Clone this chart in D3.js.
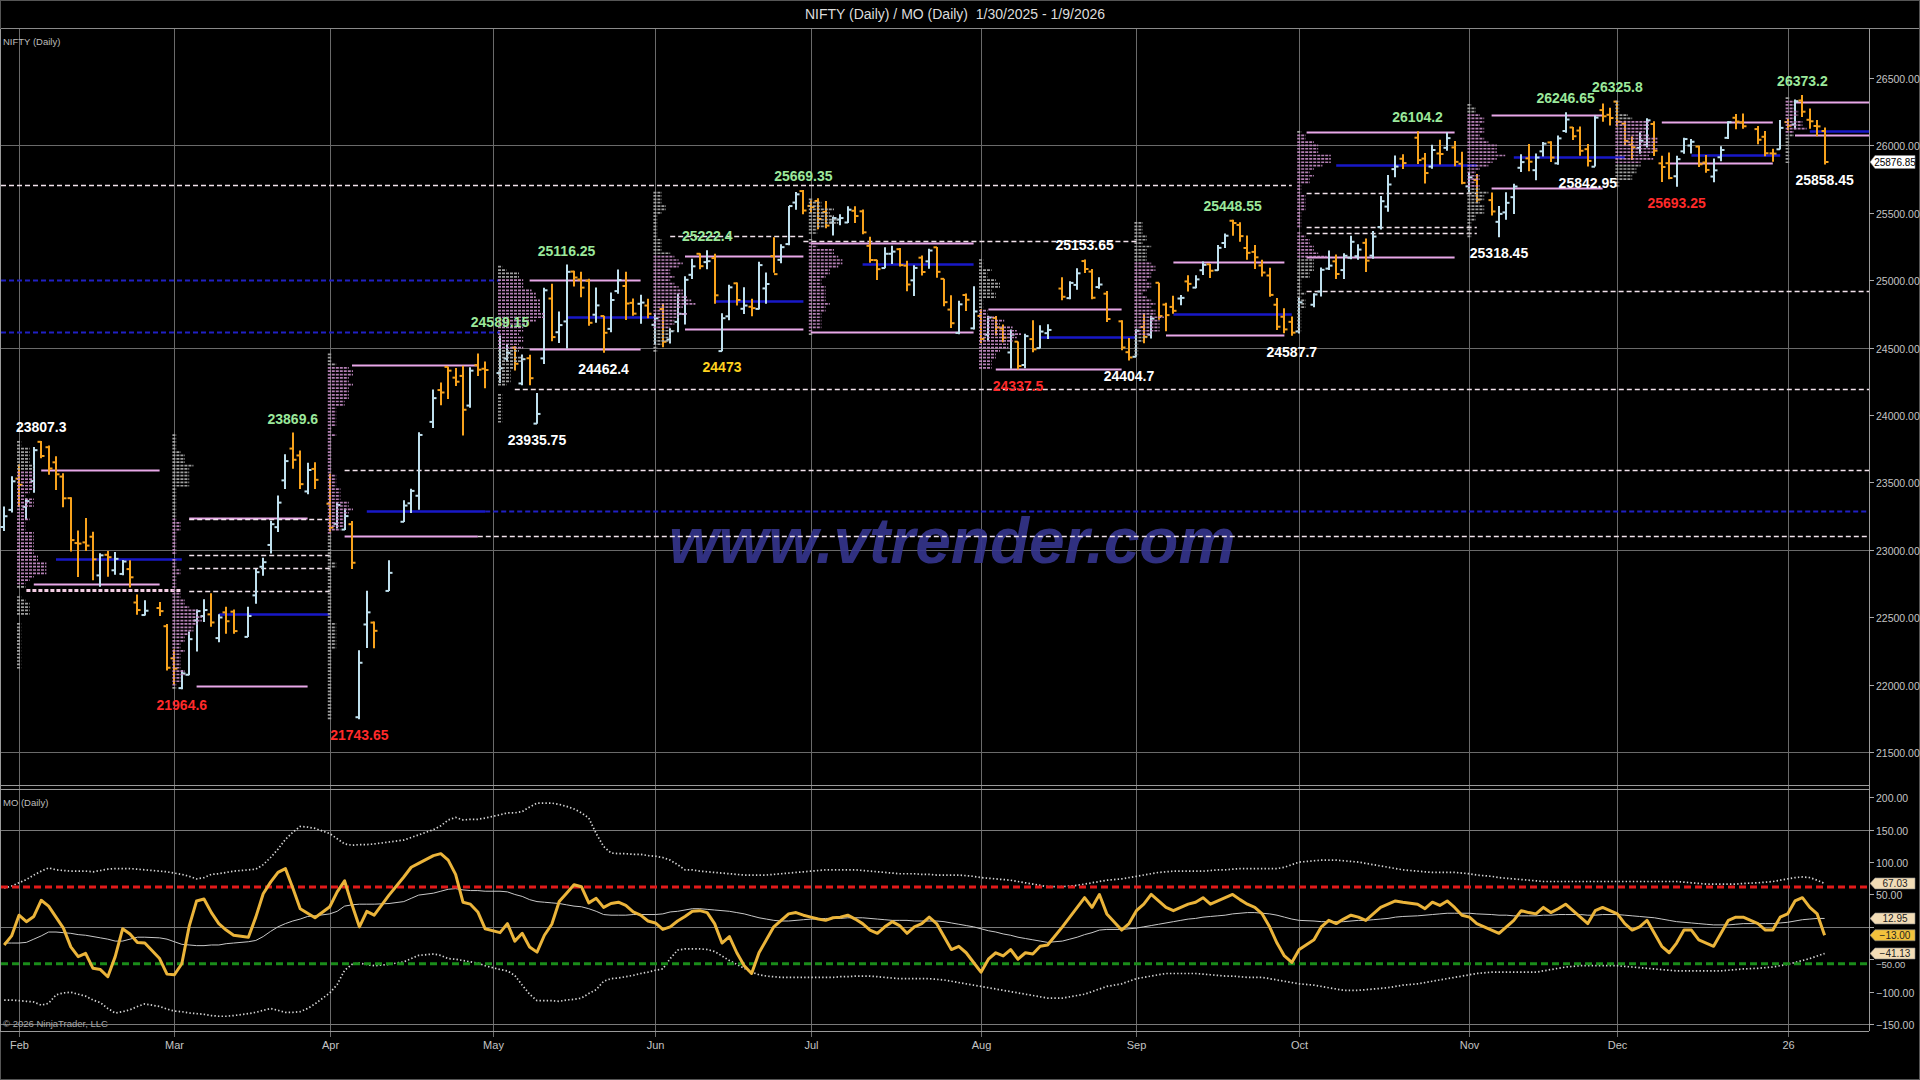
<!DOCTYPE html>
<html><head><meta charset="utf-8">
<script src="https://cdn.jsdelivr.net/npm/d3@7"></script>
<style>
html,body{margin:0;padding:0;background:#000;}
svg{display:block;}
text{font-family:'Liberation Sans Narrow','Arial Narrow','Liberation Sans',Arial,sans-serif;}
</style></head><body>
<svg id="c" width="1920" height="1080"></svg>
<script>
// ---------------- DATA ----------------
// daily bars: [date, open, high, low, close]
const jan25 = [
['2025-01-30',23169,23322,23139,23249],['2025-01-31',23296,23546,23277,23508]];
const feb25 = [
['2025-02-01',23528,23632,23318,23482],['2025-02-03',23319,23381,23222,23361],['2025-02-04',23509,23762,23424,23739],
['2025-02-05',23801,23807.3,23680,23696],['2025-02-06',23761,23773,23556,23603],['2025-02-07',23649,23694,23443,23560],
['2025-02-10',23543,23568,23316,23382],['2025-02-11',23383,23390,22987,23072],['2025-02-12',23050,23144,22798,23046],
['2025-02-13',23055,23236,22992,23031],['2025-02-14',23097,23133,22774,22929],['2025-02-17',22810,22974,22725,22959],
['2025-02-18',22963,22992,22801,22945],['2025-02-19',22848,22983,22814,22933],['2025-02-20',22821,22924,22812,22913],
['2025-02-21',22857,22922,22720,22796],['2025-02-24',22609,22668,22519,22553],['2025-02-25',22516,22626,22513,22548],
['2025-02-27',22568,22613,22508,22545],['2025-02-28',22433,22450,22104,22125]];
const mar25 = [
['2025-03-03',22195,22261,22005,22119],['2025-03-04',21974,22106,21964.6,22083],['2025-03-05',22073,22394,22069,22337],
['2025-03-06',22476,22557,22245,22545],['2025-03-07',22508,22633,22464,22553],['2025-03-10',22521,22677,22429,22461],
['2025-03-11',22345,22522,22314,22498],['2025-03-12',22536,22578,22377,22470],['2025-03-13',22541,22558,22377,22397],
['2025-03-17',22354,22577,22354,22509],['2025-03-18',22662,22857,22599,22834],['2025-03-19',22874,22941,22807,22908],
['2025-03-20',23036,23216,22973,23190],['2025-03-21',23168,23403,23132,23350],['2025-03-24',23515,23708,23451,23658],
['2025-03-25',23751,23869.6,23601,23668],['2025-03-26',23700,23737,23451,23487],['2025-03-27',23433,23646,23412,23592],
['2025-03-28',23600,23649,23451,23519]];
const apr25 = [
['2025-04-01',23342,23565,23136,23165],['2025-04-02',23193,23350,23158,23332],['2025-04-03',23150,23306,23146,23250],
['2025-04-04',23190,23214,22857,22904],['2025-04-07',21758,22254,21743.65,22162],['2025-04-08',22446,22697,22271,22536],
['2025-04-09',22460,22468,22270,22399],['2025-04-11',22695,22923,22695,22829],['2025-04-15',23208,23368,23207,23328],
['2025-04-16',23345,23452,23273,23437],['2025-04-17',23401,23872,23298,23852],['2025-04-21',23949,24189,23903,24125],
['2025-04-22',24185,24242,24073,24167],['2025-04-23',24357,24359,24119,24329],['2025-04-24',24277,24348,24216,24247],
['2025-04-25',24290,24366,23847,24039],['2025-04-28',24070,24355,24054,24329],['2025-04-29',24370,24457,24290,24336],
['2025-04-30',24343,24396,24198,24334]];
const may25 = [
['2025-05-02',24311,24589.15,24238,24347],['2025-05-05',24419,24526,24400,24461],['2025-05-06',24500,24510,24331,24380],
['2025-05-07',24234,24449,24220,24414],['2025-05-08',24421,24447,24220,24273],['2025-05-09',23936,24164,23935.75,24008],
['2025-05-12',24420,24944,24378,24925],['2025-05-13',24864,24973,24547,24578],['2025-05-14',24614,24767,24535,24667],
['2025-05-15',24694,25116.25,24494,25062],['2025-05-16',25064,25071,24953,25020],['2025-05-19',25005,25062,24874,24945],
['2025-05-20',24996,25011,24662,24684],['2025-05-21',24744,24946,24685,24813],['2025-05-22',24734,24737,24462.4,24610],
['2025-05-23',24639,24909,24614,24853],['2025-05-26',24919,25079,24900,25001],['2025-05-27',24957,25062,24704,24827],
['2025-05-28',24832,24865,24737,24752],['2025-05-29',24825,24892,24677,24834],['2025-05-30',24812,24863,24717,24751]];
const jun25 = [
['2025-06-02',24669,24754,24527,24717],['2025-06-03',24786,24826,24502,24543],['2025-06-04',24560,24644,24530,24621],
['2025-06-05',24691,24899,24613,24751],['2025-06-06',24749,25029,24672,25003],['2025-06-09',25040,25160,25008,25103],
['2025-06-10',25196,25200,25082,25104],['2025-06-11',25134,25222.4,25081,25141],['2025-06-12',25164,25196,24825,24888],
['2025-06-13',24474,24754,24473,24718],['2025-06-16',24732,24967,24703,24947],['2025-06-17',24977,24983,24813,24853],
['2025-06-18',24788,24947,24750,24812],['2025-06-19',24803,24863,24733,24793],['2025-06-20',24787,25137,24783,25112],
['2025-06-23',24939,25058,24825,24972],['2025-06-24',25179,25318,25056,25045],['2025-06-25',25151,25266,25125,25245],
['2025-06-26',25268,25550,25259,25550],['2025-06-27',25576,25655,25523,25637],['2025-06-30',25661,25669.35,25490,25517]];
const jul25 = [
['2025-07-01',25551,25593,25501,25542],['2025-07-02',25588,25608,25378,25454],['2025-07-03',25506,25587,25386,25405],
['2025-07-04',25428,25470,25332,25461],['2025-07-07',25450,25490,25407,25461],['2025-07-08',25428,25549,25424,25523],
['2025-07-09',25515,25548,25424,25476],['2025-07-10',25511,25525,25340,25355],['2025-07-11',25255,25323,25129,25150],
['2025-07-14',25149,25151,25001,25082],['2025-07-15',25090,25245,25089,25196],['2025-07-16',25196,25255,25121,25212],
['2025-07-17',25230,25238,25101,25112],['2025-07-18',25108,25144,24918,24968],['2025-07-21',24999,25111,24882,25091],
['2025-07-22',25167,25183,25035,25061],['2025-07-23',25140,25233,25085,25220],['2025-07-24',25244,25246,25018,25062],
['2025-07-25',25010,25011,24807,24837],['2025-07-28',24782,24889,24646,24681],['2025-07-29',24609,24848,24599,24821],
['2025-07-30',24890,24902,24772,24855],['2025-07-31',24643,24956,24635,24768]];
const aug25 = [
['2025-08-01',24735,24784,24535,24565],['2025-08-04',24596,24736,24554,24723],['2025-08-05',24720,24734,24590,24650],
['2025-08-06',24641,24671,24539,24574],['2025-08-07',24464,24634,24344,24596],['2025-08-08',24544,24545,24337.5,24363],
['2025-08-11',24371,24603,24347,24585],['2025-08-12',24563,24702,24465,24487],['2025-08-13',24496,24665,24494,24619],
['2025-08-14',24607,24673,24563,24631],['2025-08-18',24938,25022,24852,24877],['2025-08-19',24867,24993,24859,24980],
['2025-08-20',24965,25088,24929,25051],['2025-08-21',25142,25153.65,25054,25083],['2025-08-22',25064,25084,24859,24870],
['2025-08-25',24949,25022,24936,24968],['2025-08-26',24900,24919,24689,24712],['2025-08-28',24695,24702,24481,24501],
['2025-08-29',24466,24572,24404.7,24427]];
const sep25 = [
['2025-09-01',24432,24636,24432,24625],['2025-09-02',24653,24756,24533,24580],['2025-09-03',24596,24737,24567,24715],
['2025-09-04',24981,24981,24706,24734],['2025-09-05',24819,24832,24621,24741],['2025-09-08',24802,24885,24751,24773],
['2025-09-09',24864,24891,24814,24869],['2025-09-10',24991,25036,24916,24973],['2025-09-11',24945,25037,24940,25006],
['2025-09-12',25074,25139,25038,25114],['2025-09-15',25118,25120,25017,25070],['2025-09-16',25074,25261,25070,25240],
['2025-09-17',25276,25346,25239,25330],['2025-09-18',25441,25448.55,25330,25424],['2025-09-19',25410,25429,25286,25327],
['2025-09-22',25239,25331,25151,25203],['2025-09-23',25210,25261,25084,25170],['2025-09-24',25109,25151,25027,25057],
['2025-09-25',25035,25093,24878,24891],['2025-09-26',24818,24868,24630,24655],['2025-09-29',24729,24792,24606,24635],
['2025-09-30',24691,24731,24587.7,24611]];
const oct25 = [
['2025-10-01',24620,24868,24605,24836],['2025-10-03',24818,24904,24800,24894],['2025-10-06',24916,25095,24880,25077],
['2025-10-07',25086,25220,25076,25108],['2025-10-08',25140,25190,25009,25046],['2025-10-09',25075,25199,25009,25181],
['2025-10-10',25167,25330,25156,25285],['2025-10-13',25178,25267,25152,25227],['2025-10-14',25277,25310,25061,25145],
['2025-10-15',25182,25365,25160,25324],['2025-10-16',25394,25625,25376,25586],['2025-10-17',25546,25781,25508,25710],
['2025-10-20',25824,25926,25763,25843],['2025-10-21',25901,25934,25825,25869],['2025-10-23',26057,26104.2,25862,25891],
['2025-10-24',25902,25944,25718,25795],['2025-10-27',25843,26005,25827,25966],['2025-10-28',25940,26041,25858,25936],
['2025-10-29',25982,26098,25960,26054],['2025-10-30',25985,26033,25845,25878],['2025-10-31',25864,25953,25711,25722]];
const nov25 = [
['2025-11-03',25696,25803,25645,25763],['2025-11-04',25744,25788,25578,25598],['2025-11-06',25594,25650,25480,25510],
['2025-11-07',25433,25551,25318.45,25492],['2025-11-10',25503,25653,25449,25574],['2025-11-11',25616,25715,25491,25695],
['2025-11-12',25834,25935,25802,25876],['2025-11-13',25904,26011,25808,25879],['2025-11-14',25816,25940,25741,25910],
['2025-11-17',25956,26025,25918,26013],['2025-11-18',26022,26030,25876,25910],['2025-11-19',25867,26074,25857,26052],
['2025-11-20',26107,26246.65,26093,26192],['2025-11-21',26133,26136,26040,26068],['2025-11-24',26110,26141,25924,25960],
['2025-11-25',25972,26010,25842.95,25885],['2025-11-26',25842,26221,25843,26206],['2025-11-27',26262,26310,26175,26216],
['2025-11-28',26227,26280,26148,26203]];
const dec25 = [
['2025-12-01',26325,26325.8,26140,26176],['2025-12-02',26161,26183,25997,26032],['2025-12-03',26005,26066,25891,25986],
['2025-12-04',25981,26098,25938,26034],['2025-12-05',26004,26202,25985,26186],['2025-12-08',26159,26180,25922,25961],
['2025-12-09',25867,25923,25728,25840],['2025-12-10',25868,25947,25748,25758],['2025-12-11',25771,25923,25693.25,25898],
['2025-12-12',25956,26057,25938,26047],['2025-12-15',25999,26048,25939,26027],['2025-12-16',25991,25997,25840,25860],
['2025-12-17',25873,25929,25798,25818],['2025-12-18',25769,25903,25726,25815],['2025-12-19',25912,25994,25883,25966],
['2025-12-22',26056,26180,26047,26172],['2025-12-23',26205,26233,26119,26177],['2025-12-24',26170,26236,26124,26142],
['2025-12-26',26121,26144,26008,26042],['2025-12-29',26064,26106,25920,25942],['2025-12-30',25941,25976,25878,25939],
['2025-12-31',25971,26188,25969,26130]];
const jan26 = [
['2026-01-01',26173,26197,26113,26146],['2026-01-02',26155,26340,26119,26328],['2026-01-05',26333,26373.2,26210,26250],
['2026-01-06',26190,26274,26124,26179],['2026-01-07',26144,26188,26067,26141],['2026-01-08',26107,26133,25858.45,25876.85]];

// MO indicator (one value per bar, same order as bars)
const moValue = [
-28,-14,
18,8,16,41,32,15,-2,-31,-46,-41,-64,-66,-77,-46,-3,-11,-24,-25,-49,-73,
-74,-57,1,40,43,22,5,-5,-13,-16,15,51,69,84,90,60,28,21,14,
31,54,71,34,0,24,18,49,77,92,98,110,113,103,81,38,35,23,-3,
-9,5,-22,-10,-31,-39,-13,4,39,52,65,62,37,44,30,36,38,33,23,18,9,
6,-4,0,9,16,24,25,22,5,-25,-15,-40,-60,-72,-40,-20,0,10,20,22,18,
15,12,10,14,15,18,12,5,-5,-10,0,8,2,-10,0,5,15,5,-15,-35,-30,-40,-55,
-70,-50,-40,-45,-35,-50,-40,-42,-30,-28,0,15,30,45,30,50,20,-5,5,
25,35,50,40,30,25,30,35,38,45,35,40,45,50,42,35,30,20,0,-25,-45,-55,
-35,-20,0,10,5,12,18,15,10,20,30,35,40,38,35,28,38,33,40,30,18,
15,5,-5,-10,0,10,25,22,20,30,22,28,35,25,15,5,25,30,25,
20,5,-5,0,10,-10,-30,-40,-25,-5,-5,-20,-25,-30,-10,10,15,15,5,-5,-5,15,
20,40,45,30,20,-13.00];
const moAverage = [
-25,-25,
-25,-24,-19,-14,-8,-8,-9,-10,-12,-13,-15,-17,-19,-22,-22,-19,-16,-16,-17,-19,
-23,-27,-28,-29,-29,-28,-28,-26,-25,-23,-21,-15,-7,0,5,9,12,16,17,
20,24,32,34,35,35,35,36,39,44,49,52,55,58,59,57,56,56,55,
55,54,50,47,42,39,38,37,36,34,32,31,28,24,19,18,18,18,19,19,19,
19,20,23,24,26,28,28,27,26,25,24,22,20,17,14,12,10,9,9,10,11,
12,12,13,13,13,14,14,14,13,12,11,10,10,10,9,9,9,9,8,6,4,2,0,
-3,-6,-8,-11,-13,-16,-18,-20,-22,-24,-22,-19,-16,-12,-9,-5,-4,-4,-3,
-2,0,2,4,6,8,10,12,13,15,16,17,18,20,21,22,22,21,20,18,15,12,
10,9,8,8,8,8,9,10,10,11,12,13,15,16,17,18,19,20,21,21,21,
21,20,19,18,18,17,17,17,17,18,18,19,19,19,19,18,18,19,19,
19,18,17,16,15,14,12,10,8,7,6,5,4,3,3,3,4,5,5,5,5,6,
7,9,11,12,13,12.95];
const moUpper = [
60,63,
68,73,80,86,91,88,87,86,86,86,85,87,89,90,90,90,89,88,86,85,
83,81,78,74,76,81,82,84,86,88,89,96,107,120,135,146,155,154,152,
144,136,128,126,127,127,128,131,134,138,142,150,156,165,169,165,166,166,168,
173,176,176,178,185,191,191,191,189,186,182,176,168,144,124,114,113,113,112,112,110,
109,107,103,96,88,88,86,85,84,83,82,81,80,80,80,80,81,82,83,84,85,
86,87,88,88,88,88,88,87,86,85,84,83,82,82,82,81,81,80,80,80,80,79,78,
76,75,74,73,72,70,68,66,64,62,62,63,64,66,68,70,72,74,76,
78,80,82,84,85,86,86,86,86,86,87,88,88,89,90,90,90,90,90,90,92,96,
100,102,103,103,103,102,101,100,98,96,94,92,90,88,86,85,84,84,84,84,83,
82,80,78,76,75,74,73,72,71,70,70,70,70,70,70,70,70,70,70,
70,70,70,70,70,70,70,70,70,69,68,67,66,66,66,66,66,67,68,69,70,72,
74,76,77,76,72,67.03];
const moLower = [
-113,-113,
-114,-115,-116,-121,-118,-105,-102,-101,-104,-107,-113,-117,-126,-133,-131,-128,-123,-119,-123,-127,
-130,-131,-133,-134,-135,-137,-138,-138,-137,-134,-132,-129,-126,-129,-132,-132,-131,-126,-119,
-102,-89,-67,-58,-56,-58,-60,-58,-54,-49,-44,-42,-44,-49,-50,-52,-54,-56,-60,
-66,-68,-75,-90,-104,-114,-114,-114,-115,-113,-112,-110,-103,-97,-84,-80,-79,-77,-75,-72,-70,
-67,-65,-49,-36,-34,-34,-34,-35,-38,-45,-52,-58,-64,-70,-74,-76,-77,-78,-78,-78,-78,
-78,-78,-78,-78,-77,-77,-76,-76,-76,-77,-78,-79,-80,-80,-80,-80,-80,-81,-82,-84,-86,-88,-90,
-92,-94,-96,-98,-100,-102,-104,-106,-108,-110,-110,-108,-106,-104,-100,-96,-92,-88,-84,
-80,-78,-76,-74,-72,-72,-72,-72,-72,-73,-74,-75,-76,-76,-77,-78,-78,-78,-80,-82,-84,-86,
-88,-90,-92,-94,-96,-98,-98,-98,-97,-96,-95,-94,-92,-90,-88,-86,-84,-82,-80,-78,-76,
-74,-72,-70,-70,-70,-70,-70,-70,-70,-68,-66,-64,-62,-61,-60,-60,-60,-60,-60,
-60,-61,-62,-63,-64,-65,-66,-67,-68,-68,-68,-68,-68,-68,-68,-67,-66,-65,-64,-63,-62,-60,
-58,-55,-52,-49,-45,-41.13];
const moUpperLevel = 61.5, moLowerLevel = -57;

// monthly profile value areas
const profileMonths = ['2025-02','2025-03','2025-04','2025-05','2025-06','2025-07','2025-08','2025-09','2025-10','2025-11','2025-12','2026-01'];
const profileVAL = [22748,21987,23102,24491,24640,24613,24342,24597,25170,25683,25872,26077];
const profileVAH = [23593,23239,24371,25004,25176,25276,24789,25136,26097,26226,26176,26325];

// horizontal level segments: [price, fromDate|null, toDate|null, kind]
const levelSegments = [
[25703,null,'2025-09-30','dash'],[25004,null,'2025-05-02','bluedash'],[24613,null,'2025-05-02','bluedash'],
[23593,'2025-02-05','2025-02-27','va'],[22931,'2025-02-07','2025-03-04','poc'],[22748,'2025-02-04','2025-02-27','va'],
[22699,'2025-02-03','2025-03-04','dashpink'],
[23239,'2025-03-05','2025-03-27','va'],[23230,'2025-03-05','2025-04-01','dash'],[22964,'2025-03-05','2025-04-01','dash'],
[22868,'2025-03-05','2025-04-01','dash'],[22692,'2025-03-05','2025-04-01','dash'],[22527,'2025-03-11','2025-04-01','poc'],
[21987,'2025-03-06','2025-03-27','va'],
[24371,'2025-04-04','2025-04-29','va'],[23288,'2025-04-08','2025-04-30','poc'],[23288,'2025-04-30',null,'bluedash'],
[23102,'2025-04-03','2025-04-29','va'],[23102,'2025-04-29',null,'dash'],[23592,'2025-04-03',null,'dash'],
[24193,'2025-05-06',null,'dash'],
[25004,'2025-05-08','2025-05-29','va'],[24729,'2025-05-15','2025-06-02','poc'],[24491,'2025-05-08','2025-05-29','va'],
[25325,'2025-06-04','2025-06-30','dash'],[25176,'2025-06-06','2025-06-30','va'],[24845,'2025-06-12','2025-06-30','poc'],
[24640,'2025-06-06','2025-06-30','va'],
[25292,'2025-06-30','2025-09-01','dash'],[25276,'2025-07-01','2025-07-31','va'],[25120,'2025-07-10','2025-07-31','poc'],
[24613,'2025-07-01','2025-07-31','va'],
[24789,'2025-08-04','2025-08-28','va'],[24580,'2025-08-13','2025-09-01','poc'],[24342,'2025-08-05','2025-08-28','va'],
[25136,'2025-09-08','2025-09-29','va'],[24746,'2025-09-08','2025-09-30','poc'],[24597,'2025-09-05','2025-09-29','va'],
[26097,'2025-10-02','2025-10-30','va'],[25855,'2025-10-08','2025-11-04','poc'],[25647,'2025-10-02','2025-11-04','dash'],
[25392,'2025-10-02','2025-11-04','dash'],[25348,'2025-10-02','2025-11-04','dash'],[25170,'2025-10-02','2025-10-30','va'],
[24921,'2025-10-02',null,'dash'],
[26226,'2025-11-06','2025-11-27','va'],[25911,'2025-11-11','2025-12-02','poc'],[25683,'2025-11-06','2025-11-27','va'],
[26176,'2025-12-09','2025-12-30','va'],[25931,'2025-12-15','2025-12-31','poc'],[25872,'2025-12-10','2025-12-30','va'],
[26325,'2026-01-02',null,'va'],[26110,'2026-01-06',null,'poc'],[26077,'2026-01-02',null,'va']];

// swing annotations: [date, text, above/below, colour]
const swingLabels = [
['2025-02-05','23807.3','above','#ffffff'],['2025-03-04','21964.6','below','#ff2a2a'],
['2025-03-25','23869.6','above','#9be89b'],['2025-04-07','21743.65','below','#ff2a2a'],
['2025-05-02','24589.15','above','#9be89b'],['2025-05-09','23935.75','below','#ffffff'],
['2025-05-15','25116.25','above','#9be89b'],['2025-05-22','24462.4','below','#ffffff'],
['2025-06-11','25222.4','above','#9be89b'],['2025-06-13','24473','below','#ffd21f'],
['2025-06-30','25669.35','above','#9be89b'],['2025-08-08','24337.5','below','#ff2a2a'],
['2025-08-21','25153.65','above','#ffffff'],['2025-08-29','24404.7','below','#ffffff'],
['2025-09-18','25448.55','above','#9be89b'],['2025-09-30','24587.7','below','#ffffff'],
['2025-10-23','26104.2','above','#9be89b'],['2025-11-07','25318.45','below','#ffffff'],
['2025-11-20','26246.65','above','#9be89b'],['2025-11-25','25842.95','below','#ffffff'],
['2025-12-01','26325.8','above','#9be89b'],['2025-12-11','25693.25','below','#ff2a2a'],
['2026-01-05','26373.2','above','#9be89b'],['2026-01-08','25858.45','below','#ffffff']];

const priceTicks = [21500,22000,22500,23000,23500,24000,24500,25000,25500,26000,26500];
const priceGrid = [21500,23000,24500,26000];
const moTicks = [-150,-100,-50,50,100,150,200];
const moTickMarks = [-150,-100,-50,0,50,100,150,200];
const moGrid = [-150,0,150];
const monthTickLabels = ['Feb','Mar','Apr','May','Jun','Jul','Aug','Sep','Oct','Nov','Dec','26'];
const extraSessions = ['2025-02-01'];

// ---------------- LAYOUT ----------------
const W=1920,H=1080, plotL=1, plotR=1869, priceTop=29, priceBot=785, moTop=789, moBot=1031;
const svg=d3.select('#c');
svg.append('rect').attr('width',W).attr('height',H).attr('fill','#000');

const bars=[].concat(jan25,feb25,mar25,apr25,may25,jun25,jul25,aug25,sep25,oct25,nov25,dec25,jan26);
const fmt=d3.timeFormat('%Y-%m-%d'), parse=d3.timeParse('%Y-%m-%d');
const slotOf=new Map(); let s=0;
for(let d=parse(bars[0][0]); d<=parse(bars[bars.length-1][0]); d=d3.timeDay.offset(d,1)){
  const k=fmt(d), wd=d.getDay();
  if((wd>0&&wd<6)||extraSessions.includes(k)){slotOf.set(k,s);s++;}
}
const lastSlot=slotOf.get(bars[bars.length-1][0]);
const xs=d3.scaleLinear().domain([0,lastSlot]).range([4.2,1824.6]);
const X=d=>xs(slotOf.get(d));
const y=d3.scaleLinear().domain([21500,26500]).range([752,78]);
const ym=d3.scaleLinear().domain([-150,200]).range([1024,797.3]);

// title
svg.append('text').attr('x',955).attr('y',19).attr('text-anchor','middle').attr('fill','#dcdcdc')
  .attr('font-size',14).attr('xml:space','preserve').text('NIFTY (Daily) / MO (Daily)  1/30/2025 - 1/9/2026');
svg.append('line').attr('x1',0).attr('x2',W).attr('y1',28.5).attr('y2',28.5).attr('stroke','#8a8a8a');
svg.append('rect').attr('x',0.5).attr('y',0.5).attr('width',W-1).attr('height',H-1).attr('fill','none').attr('stroke','#555');

// month grid
const monthStarts=[]; const seen=new Set();
for(const [k] of slotOf){const m=k.slice(0,7); if(!seen.has(m)){seen.add(m); if(m>='2025-02') monthStarts.push(k);}}
const g0=svg.append('g');
monthStarts.forEach((k,i)=>{
  const xx=Math.round(X(k))+0.5;
  g0.append('line').attr('x1',xx).attr('x2',xx).attr('y1',priceTop).attr('y2',moBot+6).attr('stroke','#6a6a6a').attr('stroke-width',1);
  g0.append('text').attr('x',xx).attr('y',1049).attr('text-anchor','middle').attr('fill','#c4c4c4').attr('font-size',11).text(monthTickLabels[i]);
});
priceGrid.forEach(p=>g0.append('line').attr('x1',plotL).attr('x2',plotR).attr('y1',Math.round(y(p))+0.5).attr('y2',Math.round(y(p))+0.5).attr('stroke','#6a6a6a'));
moGrid.forEach(v=>g0.append('line').attr('x1',plotL).attr('x2',plotR).attr('y1',Math.round(ym(v))+0.5).attr('y2',Math.round(ym(v))+0.5).attr('stroke','#7a7a7a'));
[[priceBot],[moTop],[moBot]].forEach(([yy])=>g0.append('line').attr('x1',0).attr('x2',plotR).attr('y1',yy+0.5).attr('y2',yy+0.5).attr('stroke','#9a9a9a'));
g0.append('line').attr('x1',plotR+0.5).attr('x2',plotR+0.5).attr('y1',priceTop).attr('y2',moBot).attr('stroke','#9a9a9a');
g0.append('line').attr('x1',0.5).attr('x2',0.5).attr('y1',priceTop).attr('y2',moBot).attr('stroke','#9a9a9a');

// watermark
svg.append('text').attr('x',952).attr('y',563).attr('text-anchor','middle')
  .attr('font-family',"'Liberation Sans',Arial,sans-serif").attr('font-weight','bold').attr('font-style','italic')
  .attr('font-size',64).attr('fill','#36368e').attr('opacity',0.9).text('www.vtrender.com');

// panel labels
svg.append('text').attr('x',3).attr('y',45).attr('fill','#bdbdbd').attr('font-size',9.5).text('NIFTY (Daily)');
svg.append('text').attr('x',3).attr('y',806).attr('fill','#bdbdbd').attr('font-size',9.5).text('MO (Daily)');
svg.append('text').attr('x',3).attr('y',1027).attr('fill','#a8a8a8').attr('font-size',9.5).text('© 2026 NinjaTrader, LLC');

// level segments
const segStyle={
  va:{c:'#e8a8e8',w:2,d:null}, poc:{c:'#1818c8',w:2.4,d:null},
  dash:{c:'#f2e2ec',w:1.6,d:'5,3'}, bluedash:{c:'#2020c4',w:2,d:'5,3'}, dashpink:{c:'#f4cde4',w:3,d:'4,2'}};
const gl=svg.append('g');
levelSegments.forEach(([p,a,b,k])=>{
  const st=segStyle[k];
  const l=gl.append('line').attr('x1',a?X(a):plotL).attr('x2',b?X(b):plotR)
    .attr('y1',Math.round(y(p))+0.5).attr('y2',Math.round(y(p))+0.5).attr('stroke',st.c).attr('stroke-width',st.w);
  if(st.d) l.attr('stroke-dasharray',st.d);
});

// bars
const gb=svg.append('g');
bars.forEach(([d,o,h,l,c])=>{
  const xx=Math.round(X(d)), col=c>=o?'#bfe0ee':'#f7a21c';
  gb.append('line').attr('x1',xx).attr('x2',xx).attr('y1',y(h)).attr('y2',y(l)).attr('stroke',col).attr('stroke-width',2);
  gb.append('line').attr('x1',xx-3.5).attr('x2',xx).attr('y1',y(o)).attr('y2',y(o)).attr('stroke',col).attr('stroke-width',2);
  gb.append('line').attr('x1',xx).attr('x2',xx+3.5).attr('y1',y(c)).attr('y2',y(c)).attr('stroke',col).attr('stroke-width',2);
});

// profiles (TPO-style, from the month's bars)
const gp=svg.append('g').attr('opacity',0.9);
const bin=25, tpoW=4.2;
profileMonths.forEach((m,i)=>{
  const mb=bars.filter(b=>b[0].slice(0,7)===m);
  const x0=X(mb[0][0])-2;
  const lo=Math.ceil(d3.min(mb,b=>b[3])/bin)*bin, hi=Math.floor(d3.max(mb,b=>b[2])/bin)*bin;
  for(let p=lo;p<=hi;p+=bin){
    const n=mb.filter(b=>b[3]<=p&&b[2]>=p).length; if(!n) continue;
    const inVA=p>=profileVAL[i]&&p<=profileVAH[i];
    gp.append('line').attr('x1',x0).attr('x2',x0+n*tpoW).attr('y1',y(p)).attr('y2',y(p))
      .attr('stroke',inVA?'#c88ec8':'#b0b0b0').attr('stroke-width',1.7).attr('stroke-dasharray','3,1');
  }
});

// swing labels
const gt=svg.append('g');
swingLabels.forEach(([d,t,pos,col])=>{
  const v=+t;
  gt.append('text').attr('x',X(d)).attr('y',pos==='above'?y(v)-9:y(v)+21).attr('text-anchor','middle')
    .attr('fill',col).attr('font-size',14).attr('font-weight','bold').text(t);
});

// right axis
const ga=svg.append('g');
priceTicks.forEach(p=>{
  const yy=Math.round(y(p))+0.5;
  ga.append('line').attr('x1',plotR).attr('x2',plotR+5).attr('y1',yy).attr('y2',yy).attr('stroke','#aaa');
  ga.append('text').attr('x',plotR+7).attr('y',yy+4).attr('fill','#c4c4c4').attr('font-size',10.5).text(d3.format('.2f')(p));
});
moTickMarks.forEach(v=>{
  const yy=Math.round(ym(v))+0.5;
  ga.append('line').attr('x1',plotR).attr('x2',plotR+5).attr('y1',yy).attr('y2',yy).attr('stroke','#aaa');
});
moTicks.forEach(v=>{
  const yy=Math.round(ym(v))+0.5;
  ga.append('text').attr('x',plotR+7).attr('y',yy+(v===-50?8.5:4)).attr('fill','#c4c4c4').attr('font-size',v===-50?9.5:10.5).text(d3.format('.2f')(v));
});
function tagBox(yy,txt,fill,tcol,h){
  const g=ga.append('g'); const hh=h||6.5;
  g.append('path').attr('d',`M${plotR+1},${yy} L${plotR+6},${yy-hh} L${plotR+46},${yy-hh} L${plotR+46},${yy+hh} L${plotR+6},${yy+hh} Z`)
    .attr('fill',fill).attr('stroke','#888').attr('stroke-width',0.6);
  g.append('text').attr('x',plotR+26).attr('y',yy+3.5).attr('text-anchor','middle').attr('fill',tcol).attr('font-size',10).text(txt);
}
tagBox(y(bars[bars.length-1][4]),d3.format('.2f')(bars[bars.length-1][4]),'#ffffff','#000');

// MO panel
const gm=svg.append('g');
const idx=bars.map((b,i)=>i);
const line=(arr)=>d3.line().x(i=>X(bars[i][0])).y(i=>ym(arr[i]))(idx);
gm.append('path').attr('d',line(moUpper)).attr('fill','none').attr('stroke','#d6d6d6').attr('stroke-width',1.7).attr('stroke-dasharray','1.4,2.2');
gm.append('path').attr('d',line(moLower)).attr('fill','none').attr('stroke','#d6d6d6').attr('stroke-width',1.7).attr('stroke-dasharray','1.4,2.2');
gm.append('path').attr('d',line(moAverage)).attr('fill','none').attr('stroke','#c8c8c8').attr('stroke-width',1);
gm.append('line').attr('x1',plotL).attr('x2',plotR).attr('y1',ym(moUpperLevel)).attr('y2',ym(moUpperLevel)).attr('stroke','#e21a1a').attr('stroke-width',3).attr('stroke-dasharray','7,4');
gm.append('line').attr('x1',plotL).attr('x2',plotR).attr('y1',ym(moLowerLevel)).attr('y2',ym(moLowerLevel)).attr('stroke','#1a8c1a').attr('stroke-width',3).attr('stroke-dasharray','7,4');
gm.append('path').attr('d',line(moValue)).attr('fill','none').attr('stroke','#ebb43a').attr('stroke-width',3).attr('stroke-linejoin','round');

const n=bars.length-1;
tagBox(ym(moUpper[n]),d3.format('.2f')(moUpper[n]),'#f2dcb6','#222',5.5);
tagBox(ym(moAverage[n]),d3.format('.2f')(moAverage[n]),'#f2dcb6','#222',5.5);
tagBox(ym(moValue[n]),d3.format('.2f')(moValue[n]),'#f2c23c','#222',5.5);
tagBox(ym(moLower[n]),d3.format('.2f')(moLower[n]),'#f2dcb6','#222',5.5);
</script>
</body></html>
